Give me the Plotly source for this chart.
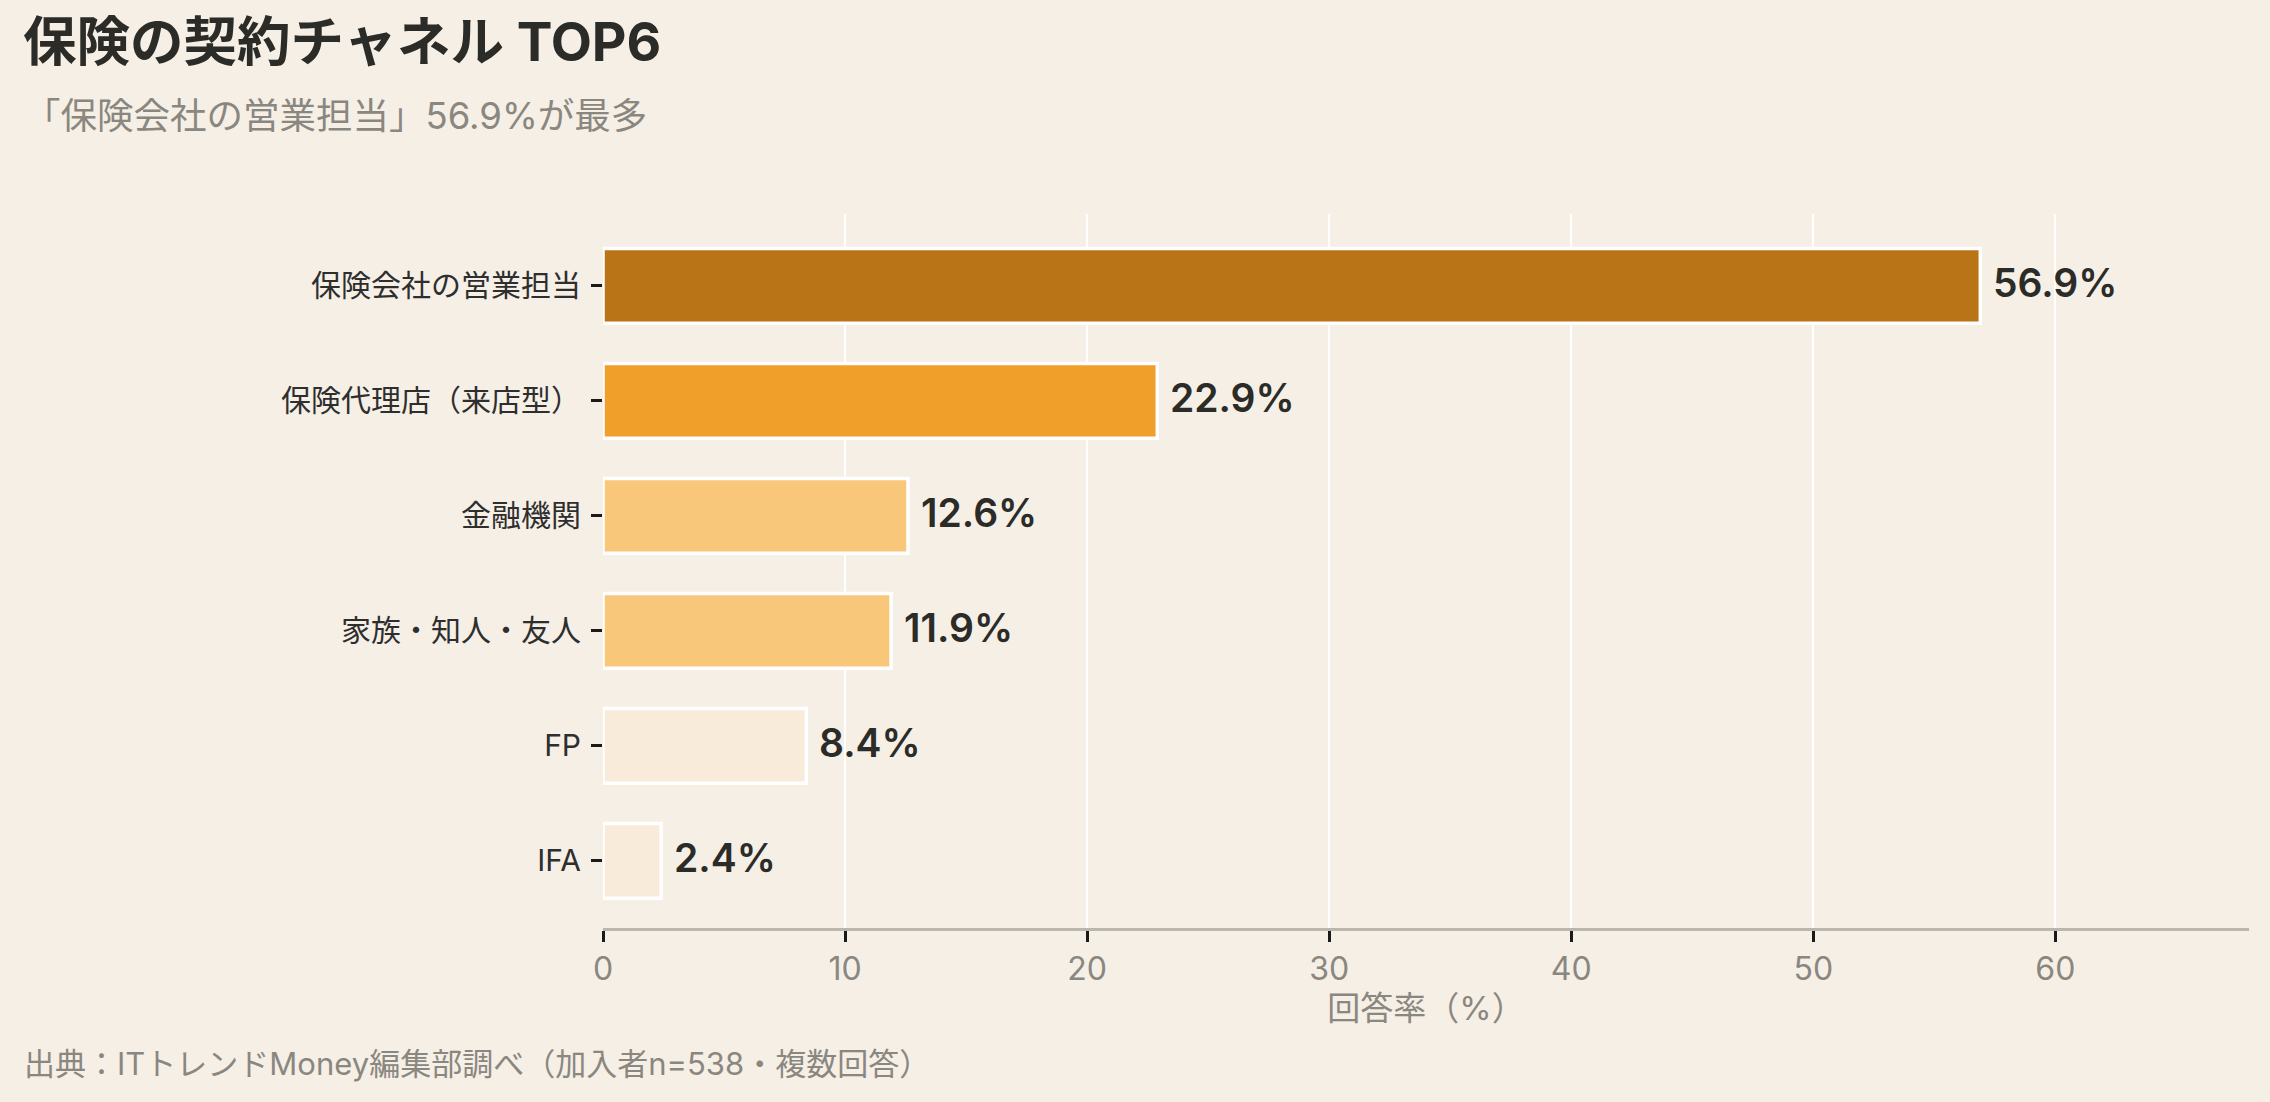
import plotly.graph_objects as go

categories = ["保険会社の営業担当", "保険代理店（来店型）", "金融機関", "家族・知人・友人", "FP", "IFA"]
values = [56.9, 22.9, 12.6, 11.9, 8.4, 2.4]
bar_colors = ["#B97418", "#EF9F2A", "#F9C77A", "#F9C77A", "#F8EBDA", "#F8EBDA"]
value_labels = [f"{v:.1f}%" for v in values]
x_ticks = [0, 10, 20, 30, 40, 50, 60]

title_text = "保険の契約チャネル TOP6"
subtitle_text = "「保険会社の営業担当」56.9%が最多"
source_text = "出典：ITトレンドMoney編集部調べ（加入者n=538・複数回答）"
x_title = "回答率（%）"

FONT = "Inter, 'Noto Sans CJK JP', sans-serif"
BG = "#F5EFE6"
DARK = "#2B2B28"
GRAY = "#8A8780"

W, H = 2270, 1102
L, R, T, B = 603, 21, 214, 174
pw, ph = W - L - R, H - T - B


def px_x(px):
    return (px - L) / pw


def px_y(py):
    return (H - B - py) / ph


fig = go.Figure()
fig.add_trace(go.Bar(
    x=values,
    y=categories,
    orientation="h",
    width=0.65,
    marker=dict(color=bar_colors, line=dict(color="#FFFFFF", width=3.5)),
    hoverinfo="skip",
))

annotations = []
for c, v, lab in zip(categories, values, value_labels):
    annotations.append(dict(
        x=v, y=c, xref="x", yref="y", text=lab, showarrow=False,
        xanchor="left", yanchor="middle", xshift=11, yshift=3,
        font=dict(family=FONT, size=39, color=DARK, weight=600),
    ))

annotations += [
    dict(x=px_x(21), y=px_y(42), xref="paper", yref="paper", text=f"<b>{title_text}</b>",
         showarrow=False, xanchor="left", yanchor="middle",
         font=dict(family=FONT, size=53.5, color=DARK)),
    dict(x=px_x(22), y=px_y(116), xref="paper", yref="paper", text=subtitle_text,
         showarrow=False, xanchor="left", yanchor="middle",
         font=dict(family=FONT, size=36.5, color=GRAY)),
    dict(x=px_x(22), y=px_y(1063), xref="paper", yref="paper", text=source_text,
         showarrow=False, xanchor="left", yanchor="middle",
         font=dict(family=FONT, size=31, color=GRAY)),
]

fig.update_layout(
    width=W, height=H,
    margin=dict(l=L, r=R, t=T, b=B, pad=0),
    paper_bgcolor=BG, plot_bgcolor=BG,
    showlegend=False,
    annotations=annotations,
    xaxis=dict(
        range=[0, 68], tickvals=x_ticks, ticktext=[str(t) for t in x_ticks],
        showgrid=True, gridcolor="#FFFFFF", gridwidth=2,
        zeroline=False,
        showline=True, linecolor="#BAB7AD", linewidth=3,
        ticks="outside", ticklen=11, tickwidth=3, tickcolor="#1A1A1A",
        tickfont=dict(family=FONT, size=32, color=GRAY),
        title=dict(text=x_title, font=dict(family=FONT, size=33, color=GRAY), standoff=6),
    ),
    yaxis=dict(
        type="category", categoryorder="array", categoryarray=categories,
        range=[5.583, -0.626],
        showgrid=False, zeroline=False, showline=False,
        ticks="outside", ticklen=11, tickwidth=3, tickcolor="#1A1A1A",
        tickfont=dict(family=FONT, size=30, color="#2E2E2E"),
        ticklabelstandoff=4,
    ),
)

fig.write_html("out.html")
